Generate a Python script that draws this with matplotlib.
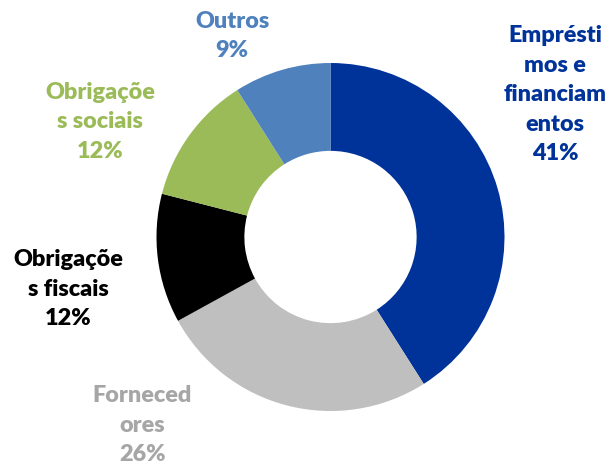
import matplotlib
matplotlib.use("Agg")
import matplotlib.pyplot as plt

categories = ["Empréstimos e financiamentos", "Fornecedores", "Obrigações fiscais",
              "Obrigações sociais", "Outros"]
values = [41, 26, 12, 12, 9]
wrapped = ["Emprésti\nmos e\nfinanciam\nentos", "Forneced\nores", "Obrigaçõe\ns fiscais",
           "Obrigaçõe\ns sociais", "Outros"]
colors = ["#003399", "#BFBFBF", "#000000", "#9BBB59", "#4F81BD"]
text_colors = ["#003399", "#A6A6A6", "#000000", "#9BBB59", "#4F81BD"]
# label centres in pixels (x, y from top)
label_px = [(555, 95), (142, 425), (68, 289), (100, 122), (232, 36)]

W, H = 613, 469
cx, cy, R = 330.5, 237, 174

fig = plt.figure(figsize=(W / 100, H / 100), dpi=100)
ax = fig.add_axes([0, 0, 1, 1])

ax.pie(values, colors=colors, startangle=90, counterclock=False, radius=1,
       wedgeprops=dict(width=0.505, linewidth=0))

ax.set_xlim(-cx / R, (W - cx) / R)
ax.set_ylim(-(H - cy) / R, cy / R)
ax.set_aspect("equal")
ax.axis("off")

for name, lab, v, c, (px, py) in zip(categories, wrapped, values, text_colors, label_px):
    ax.text((px - cx) / R, (cy - py) / R, f"{lab}\n{v}%", color=c, ha="center", va="center",
            fontsize=16.8, fontweight="heavy", family="Lato", linespacing=1.5)

fig.savefig("out.png", dpi=100)
